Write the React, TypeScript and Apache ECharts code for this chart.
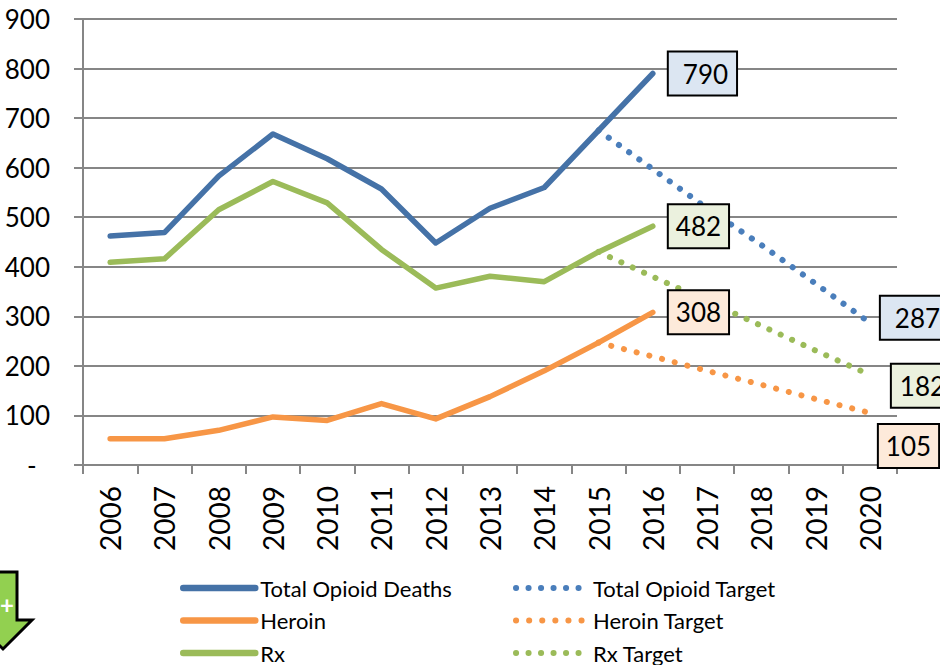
import React, { useEffect, useRef } from "react";
import * as echarts from "echarts";

const years = ["2006","2007","2008","2009","2010","2011","2012","2013","2014","2015","2016","2017","2018","2019","2020"];
const totalDeaths = [462,469,583,668,618,557,448,518,560,675,790,null,null,null,null];
const heroin = [53,53,70,97,90,124,93,138,190,247,308,null,null,null,null];
const rx = [409,416,515,572,529,435,357,381,370,430,482,null,null,null,null];
const totalTarget = [null,null,null,null,null,null,null,null,null,675,597,518,444,366,287];
const heroinTarget = [null,null,null,null,null,null,null,null,null,247,219,190,162,133,105];
const rxTarget = [null,null,null,null,null,null,null,null,null,430,380,331,281,231,182];

const BLUE = "#4572A7";
const ORANGE = "#F79646";
const GREEN = "#9BBB59";
const BLUE_DOT = "#4A7EBB";
const FONT = "Lato, 'Open Sans', sans-serif";

function boxed(v: number, bg: string, distance: number, dy: number, padL: number, padR: number) {
  return {
    value: v,
    label: {
      show: true, position: "right", distance, offset: [0, dy],
      formatter: String(v), color: "#000", fontFamily: FONT, fontSize: 26, lineHeight: 28,
      backgroundColor: bg, borderColor: "#000", borderWidth: 2, padding: [7, padR, 7, padL],
    },
  };
}
function withEnd(arr: (number | null)[], idx: number, item: any) {
  return arr.map((v, i) => (i === idx ? item : v));
}
const markerless = { symbol: "circle", symbolSize: 0.01, showSymbol: true, showAllSymbol: true };
function solid(name: string, data: any[], color: string) {
  return { name, type: "line", data, z: 4, ...markerless,
    color, lineStyle: { color, width: 5.5, cap: "round", join: "round" } };
}
function dotted(name: string, data: any[], color: string, gap: number) {
  return { name, type: "line", data, z: 3, ...markerless,
    color, lineStyle: { color, width: 6, type: [0.1, gap], cap: "round" } };
}

export default function App() {
  const ref = useRef<HTMLDivElement>(null);
  useEffect(() => {
    document.body.style.margin = "0";
    const chart = echarts.init(ref.current!, undefined, { renderer: "svg" });
    const legendBase = {
      orient: "vertical", itemWidth: 72, itemHeight: 14, itemGap: 8.5, top: 571, height: 120,
      itemStyle: { opacity: 0 },
      textStyle: { fontFamily: FONT, fontSize: 22, color: "#000", lineHeight: 24 },
      selectedMode: false,
    };
    const solidLeg = { width: 6.5, cap: "round" };
    const dotLeg = { width: 6, cap: "round" };
    chart.setOption({
      animation: false,
      grid: { left: 83, right: 43, top: 19, bottom: 200, containLabel: false },
      legend: [
        { ...legendBase, left: 175, lineStyle: solidLeg, data: ["Total Opioid Deaths", "Heroin", "Rx"] },
        { ...legendBase, left: 508, lineStyle: dotLeg, data: ["Total Opioid Target", "Heroin Target", "Rx Target"] },
      ],
      xAxis: {
        type: "category", data: years, boundaryGap: true,
        axisLine: { lineStyle: { color: "#868686", width: 2 } },
        axisTick: { show: true, length: 9, alignWithLabel: false, lineStyle: { color: "#868686", width: 2 } },
        axisLabel: { rotate: 90, margin: 21, fontFamily: FONT, fontSize: 28, color: "#000", interval: 0 },
        splitLine: { show: false },
      },
      yAxis: {
        type: "value", min: 0, max: 900, interval: 100,
        axisLine: { show: true, lineStyle: { color: "#868686", width: 2 } },
        axisTick: { show: true, length: 9, lineStyle: { color: "#868686", width: 2 } },
        axisLabel: {
          margin: 33, fontFamily: FONT, fontSize: 26, color: "#000",
          formatter: (v: number) => (v === 0 ? "-\u00A0\u00A0" : String(v)),
        },
        splitLine: { show: true, lineStyle: { color: "#868686", width: 2 } },
      },
      series: [
        solid("Total Opioid Deaths", withEnd(totalDeaths, 10, boxed(790, "#DCE6F2", 16, 0, 14, 8)), BLUE),
        solid("Heroin", withEnd(heroin, 10, boxed(308, "#FDEADA", 16, 0, 7, 7)), ORANGE),
        solid("Rx", withEnd(rx, 10, boxed(482, "#EBF1DE", 16, 0, 7, 7)), GREEN),
        dotted("Total Opioid Target", withEnd(totalTarget, 14, boxed(287, "#DCE6F2", 11, -5, 14, 8)), BLUE_DOT, 12.4),
        dotted("Heroin Target", withEnd(heroinTarget, 14, boxed(105, "#FDEADA", 9, 33, 7, 7)), ORANGE, 13),
        dotted("Rx Target", withEnd(rxTarget, 14, boxed(182, "#EBF1DE", 22, 11, 8, 8)), GREEN, 12.4),
      ],
      graphic: [
        {
          type: "polygon",
          shape: { points: [[-11, 572], [17, 572], [17, 620], [32, 620], [3, 649], [-26, 620], [-11, 620]] },
          style: { fill: "#92D050", stroke: "#000", lineWidth: 3, lineJoin: "miter" },
        },
        {
          type: "text", x: 7, y: 604,
          style: { text: "+", fill: "#fff", fontFamily: FONT, fontSize: 24, fontWeight: "bold", align: "center", verticalAlign: "middle" },
        },
      ],
    });
    return () => chart.dispose();
  }, []);
  return <div ref={ref} style={{ width: 940, height: 665 }} />;
}
